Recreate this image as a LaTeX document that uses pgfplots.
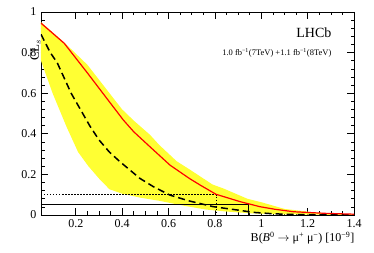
\documentclass[border=0pt]{standalone}
\usepackage{pgfplots}
\pgfplotsset{compat=1.18}
\usepackage{fontspec}
\setmainfont{Liberation Serif}
\definecolor{band}{RGB}{255,255,51}
\begin{document}
\begin{tikzpicture}
\path[use as bounding box] (-41pt,-38pt) rectangle (333pt,215pt);
\begin{axis}[
  at={(0,0)}, anchor=south west,
  scale only axis, width=313pt, height=203pt,
  xmin=0.05, xmax=1.4, ymin=0, ymax=1,
  xtick={0.2,0.4,0.6,0.8,1,1.2,1.4},
  ytick={0,0.2,0.4,0.6,0.8,1},
  minor x tick num=3, minor y tick num=4,
  tick align=inside, xtick pos=both, ytick pos=both,
  major tick length=7pt, minor tick length=3.5pt,
  tick style={black, line width=0.6pt},
  axis line style={line width=0.8pt},
  /pgf/number format/assume math mode=true,
  /pgf/number format/fixed,
  ticklabel style={font=\fontsize{12}{14}\selectfont},
  xticklabel style={yshift=-1pt},
  yticklabel style={xshift=-1pt},
  xlabel={B(\textit{B}\textsuperscript{0} $\rightarrow$ μ\textsuperscript{+} μ\textsuperscript{−}) [10\textsuperscript{−9}]},
  xlabel style={font=\fontsize{12}{14}\selectfont, at={(axis description cs:1,0)}, anchor=base east, xshift=4pt, yshift=-27pt},
  ylabel={CL$_s$},
  ylabel style={font=\fontsize{13}{15}\selectfont, at={(axis description cs:0,1)}, anchor=base east, rotate=0, xshift=-24pt, yshift=2pt},
  clip=true,
]
% yellow band
\addplot[fill=band, draw=none] coordinates {
 (0.05,0.95) (0.15,0.85) (0.25,0.74) (0.325,0.63) (0.40,0.52) (0.45,0.465)
 (0.52,0.395) (0.56,0.345) (0.635,0.265) (0.69,0.225) (0.79,0.15) (0.836,0.131)
 (0.94,0.08) (1.0,0.063) (1.1,0.03) (1.24,0.011) (1.4,0.003)
 (1.4,0) (1.1,0.003) (0.96,0.008) (0.85,0.017) (0.76,0.027) (0.67,0.045)
 (0.56,0.07) (0.48,0.085) (0.444,0.094) (0.40,0.105) (0.345,0.127) (0.30,0.18)
 (0.254,0.241) (0.21,0.31) (0.16,0.435) (0.10,0.60) (0.05,0.76)
} -- cycle;
% limit lines
\addplot[black, line width=0.8pt] coordinates {(0.05,0.05) (0.944,0.05) (0.944,0)};
\addplot[black, line width=0.8pt, dash pattern=on 1.5pt off 1.5pt] coordinates {(0.05,0.1) (0.805,0.1) (0.805,0)};
% expected
\addplot[black, line width=1.5pt, dash pattern=on 7pt off 4pt] coordinates {
 (0.05,0.89) (0.09,0.80) (0.12,0.75) (0.18,0.60) (0.26,0.44) (0.30,0.37)
 (0.345,0.31) (0.39,0.263) (0.477,0.18) (0.534,0.14) (0.606,0.098) (0.69,0.069)
 (0.793,0.041) (0.894,0.025) (0.966,0.013) (1.05,0.006) (1.15,0.002) (1.3,0.0005) (1.4,0)
};
% observed
\addplot[red, line width=1.2pt] coordinates {
 (0.05,0.945) (0.15,0.846) (0.25,0.70) (0.33,0.58) (0.405,0.468) (0.45,0.41)
 (0.52,0.336) (0.606,0.246) (0.69,0.18) (0.74,0.145) (0.805,0.102) (0.908,0.066)
 (0.994,0.041) (1.06,0.028) (1.14,0.016) (1.28,0.008) (1.4,0.004)
};
\node[anchor=base east, font=\fontsize{14}{16}\selectfont] at (axis description cs:0.939,0.873) {LHCb};
\node[anchor=base east, font=\fontsize{8.5}{10}\selectfont] at (axis description cs:0.939,0.788) {1.0 fb\textsuperscript{−1}(7TeV) +1.1 fb\textsuperscript{−1}(8TeV)};
\end{axis}
\end{tikzpicture}
\end{document}
